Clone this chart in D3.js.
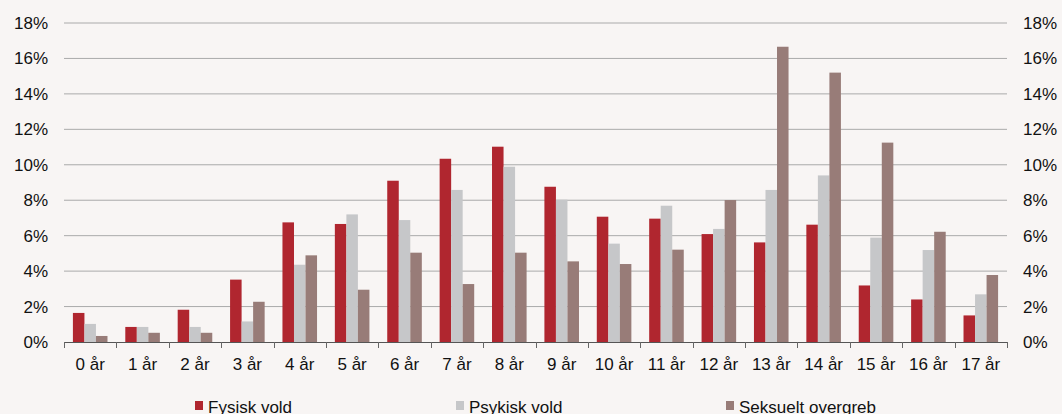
<!DOCTYPE html>
<html>
<head>
<meta charset="utf-8">
<script src="https://cdn.jsdelivr.net/npm/d3@7"></script>
<style>
  body { margin: 0; background: #f8f5f4; }
  svg { display: block; font-family: "Liberation Sans", Arial, sans-serif; }
</style>
</head>
<body>
<div id="chart"></div>
<script>
const width = 1062,
  height = 414,
  margin = { top: 23, right: 55, bottom: 72, left: 64 };

const ages = ['0 år', '1 år', '2 år', '3 år', '4 år', '5 år', '6 år', '7 år', '8 år',
  '9 år', '10 år', '11 år', '12 år', '13 år', '14 år', '15 år', '16 år', '17 år'];

const seriesNames = ['Fysisk vold', 'Psykisk vold', 'Seksuelt overgreb'];

const fysisk = [1.64, 0.85, 1.82, 3.52, 6.75, 6.66, 9.1, 10.34, 11.02, 8.76, 7.07, 6.96, 6.09, 5.62, 6.62, 3.19, 2.4, 1.5];
const psykisk = [1.02, 0.85, 0.85, 1.16, 4.36, 7.2, 6.88, 8.58, 9.89, 8.03, 5.55, 7.69, 6.38, 8.58, 9.4, 5.89, 5.19, 2.69];
const seksuelt = [0.34, 0.52, 0.52, 2.27, 4.89, 2.95, 5.04, 3.27, 5.04, 4.55, 4.4, 5.21, 8.01, 16.66, 15.2, 11.25, 6.22, 3.78];

const yTicks = [0, 2, 4, 6, 8, 10, 12, 14, 16, 18];
const colors = ['#b0262f', '#c6c7c9', '#987c78'];

const series = [fysisk, psykisk, seksuelt];
const rows = ages.map((a, i) => ({ age: a, values: series.map(s => s[i]) }));

const iw = width - margin.left - margin.right,
  ih = height - margin.top - margin.bottom;

const svg = d3.select('#chart').
append('svg').
attr('width', width).
attr('height', height);

const g = svg.append('g').
attr('transform', `translate(${margin.left},${margin.top})`);

const x = d3.scaleBand().domain(ages).range([0, iw]).paddingInner(0.34).paddingOuter(0.17);
const x1 = d3.scaleBand().domain(d3.range(3)).range([0, x.bandwidth()]);
const y = d3.scaleLinear().domain([0, 18]).range([ih, 0]);

// gridlines
g.selectAll('.grid').
data(yTicks.filter(t => t > 0)).
enter().
append('line').
attr('x1', 0).
attr('x2', iw).
attr('y1', d => y(d)).
attr('y2', d => y(d)).
attr('stroke', '#aaaaaa').
attr('stroke-width', 1);

// bars
const group = g.selectAll('.age').
data(rows).
enter().
append('g').
attr('transform', d => `translate(${x(d.age)},0)`);

group.selectAll('rect').
data(d => d.values).
enter().
append('rect').
attr('x', (d, i) => x1(i)).
attr('y', d => y(d)).
attr('width', x1.bandwidth()).
attr('height', d => ih - y(d)).
attr('fill', (d, i) => colors[i]);

// bottom axis line with ticks between categories
const step = x.step();
g.append('line').
attr('x1', 0).attr('x2', iw).
attr('y1', ih + 0.5).attr('y2', ih + 0.5).
attr('stroke', '#555').attr('stroke-width', 1.2);

g.selectAll('.xtick').
data(d3.range(ages.length + 1)).
enter().
append('line').
attr('x1', i => Math.round(i * step) + 0.5).
attr('x2', i => Math.round(i * step) + 0.5).
attr('y1', ih).
attr('y2', ih + 6).
attr('stroke', '#666');

g.selectAll('.xlabel').
data(ages).
enter().
append('text').
attr('x', d => x(d) + x.bandwidth() / 2).
attr('y', ih + 28).
attr('text-anchor', 'middle').
attr('font-size', '17px').
attr('fill', '#111').
text(d => d);

// y labels both sides
const fmt = d => d + '%';
g.selectAll('.ylabL').
data(yTicks).
enter().
append('text').
attr('x', -16).
attr('y', d => y(d) + 6).
attr('text-anchor', 'end').
attr('font-size', '17px').
attr('fill', '#111').
text(fmt);

g.selectAll('.ylabR').
data(yTicks).
enter().
append('text').
attr('x', iw + 16).
attr('y', d => y(d) + 6).
attr('text-anchor', 'start').
attr('font-size', '17px').
attr('fill', '#111').
text(fmt);

// legend
const legendX = [195, 456, 726];
const legend = svg.selectAll('.legend').
data(seriesNames).
enter().
append('g').
attr('transform', (d, i) => `translate(${legendX[i]},0)`);

legend.append('rect').
attr('x', 0).
attr('y', 401).
attr('width', 8).
attr('height', 9).
attr('fill', (d, i) => colors[i]);

legend.append('text').
attr('x', 13).
attr('y', 413).
attr('font-size', '17px').
attr('fill', '#111').
text(d => d);
</script>
</body>
</html>
